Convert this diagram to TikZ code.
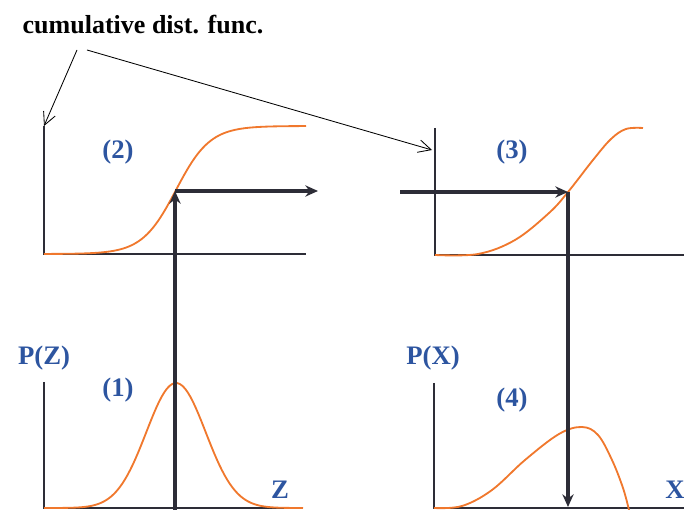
\documentclass[tikz,border=0pt]{standalone}
\usepackage{fontspec}
\setmainfont{Liberation Serif}
\usetikzlibrary{arrows.meta}
\definecolor{lblblue}{RGB}{45,85,160}
\definecolor{curveorange}{RGB}{240,120,45}
\definecolor{axisgray}{RGB}{45,45,55}
\begin{document}
\begin{tikzpicture}[
		x=0.025cm, y=-0.025cm,
		axis/.style={axisgray, line width=2pt},
		flow/.style={axisgray, line width=2.2pt, -{Stealth[length=9pt, width=8pt]}},
		curve/.style={curveorange, line width=1.3pt},
		pointer/.style={black, line width=0.6pt, -{Straight Barb[length=9pt, width=9pt]}},
		lbl/.style={lblblue, font=\fontsize{19}{22}\selectfont\bfseries},
		every node/.style={inner sep=1pt}
	]
	\useasboundingbox (0,0) rectangle (684,510);

	% title and pointers
	\node[anchor=west, font=\fontsize{18.5}{21}\selectfont\bfseries] (title) at (21,25) {cumulative dist. func.};
	\coordinate (t1) at (77,50);
	\coordinate (t2) at (87,50);
	\coordinate (top2) at (44,126);
	\coordinate (top3) at (432,150);
	\draw[pointer] (t1) -- (top2);
	\draw[pointer] (t2) -- (top3);

	% axes
	\coordinate (o2) at (44,254);
	\coordinate (o3) at (435,255);
	\coordinate (o1) at (44,508);
	\coordinate (o4) at (434,508);
	\draw[axis] (top2) -- (o2) -- (306,254);
	\draw[axis] (435,128) -- (o3) -- (684,255);
	\draw[axis] (44,382) -- (o1) -- (303,508);
	\draw[axis] (434,383) -- (o4) -- (684,508);

	% curves
	\draw[curve] plot[domain=44:306, samples=100] (\x, {254-128/(1+exp(-(\x-176)/17))});
	\draw[curve] plot[smooth, tension=0.6] coordinates {(435,255) (478,254) (515,240) (549,213) (568,192) (593,160) (611,139) (626,129) (643,128)};
	\draw[curve] plot[domain=44:303, samples=100] (\x, {508-125*exp(-((\x-176)/42)^2)});
	\draw[curve] plot[smooth, tension=0.6] coordinates {(434,508) (462,506) (492,490) (525,460) (559,434) (582,427) (598,435) (612,460) (623,488) (629,510)};

	% mapping
	\coordinate (z0) at (175,510);
	\coordinate (fz) at (175,191);
	\coordinate (fzend) at (318,191);
	\coordinate (fx0) at (400,192);
	\coordinate (fx) at (568,192);
	\coordinate (x0) at (568,507);
	\draw[flow] (z0) -- (fz);
	\draw[flow] (fz) -- (fzend);
	\draw[flow] (fx0) -- (fx);
	\draw[flow] (fx) -- (x0);

	% labels
	\node[lbl] (n2) at (118,152) {(2)};
	\node[lbl] (n3) at (512,152) {(3)};
	\node[lbl] (n1) at (118,390) {(1)};
	\node[lbl] (n4) at (512,400) {(4)};
	\node[lbl] (pz) at (44,358) {P(Z)};
	\node[lbl] (px) at (433,358) {P(X)};
	\node[lbl] (zz) at (280,490) {Z};
	\node[lbl] (xx) at (675,490) {X};
\end{tikzpicture}
\end{document}
